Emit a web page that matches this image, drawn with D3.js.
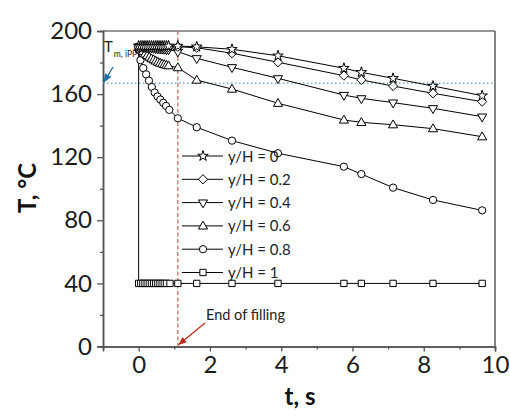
<!DOCTYPE html>
<html><head><meta charset="utf-8">
<script src="https://cdn.jsdelivr.net/npm/d3@7"></script>
<style>body{margin:0;background:#fff}svg{display:block}</style>
</head><body>
<script>
// ---- data ----
const tFine = [0,0.06,0.12,0.18,0.24,0.30,0.36,0.42,0.48,0.54,0.60,0.66,0.72,0.78,0.84,1.1,1.63,2.62,3.91,5.76,6.25,7.14,8.26,9.64];
const tCircle = [0,0.05,0.13,0.21,0.29,0.37,0.45,0.53,0.61,0.69,0.77,0.86,1.1,1.63,2.62,3.91,5.76,6.25,7.14,8.26,9.64];
const tSquare = [0,0,0.06,0.12,0.18,0.24,0.30,0.36,0.42,0.48,0.54,0.60,0.66,0.72,0.78,0.88,1.1,1.63,2.62,3.91,5.76,6.25,7.14,8.26,9.64];
const yH0   = [190.5,190.5,190.5,190.5,190.5,190.5,190.5,190.5,190.5,190.5,190.5,190.5,190.5,190.5,190.5,190.5,190,188.4,184.3,176.4,173.8,170,165.1,159];
const yH02  = [190,190,190,190,190,190,190,190,189.9,189.9,189.9,189.8,189.8,189.8,189.8,190,189.4,185.9,180.2,171.7,169,165.1,160.5,155.2];
const yH04  = [190,189.9,189.8,189.7,189.6,189.5,189.4,189.2,189,188.9,188.8,188.7,188.6,188.4,188.3,186.9,182.7,177,170,159.4,157.3,154.6,151,145.7];
const yH06  = [190,188.5,187,185.5,184.5,183.5,182.5,181.8,181,180.3,179.7,179.2,178.8,178.4,178,176.8,168.9,163.2,154.2,143.6,142.1,140.6,138.1,133];
const yH08  = [188,181.5,176.5,172.5,168.5,164.5,161,158.5,156.5,154.5,152.5,150,144.7,139,130.5,122.5,114,109.3,100.7,92.9,86.3];
const yH1   = [190,40,40,40,40,40,40,40,40,40,40,40,40,40,40,40,40,40,40,40,40,40,40,40,40];
const seriesNames = ["y/H = 0","y/H = 0.2","y/H = 0.4","y/H = 0.6","y/H = 0.8","y/H = 1"];
const xTicks = [0,2,4,6,8,10];
const yTicks = [0,40,80,120,160,200];
const tMelt = 167;      // T_m, iPP
const tFill = 1.1;      // end of filling

const W = 510, H = 416;
const m = {l:103, r:15, t:31, b:70};
const svg = d3.select("body").append("svg").attr("width",W).attr("height",H);
const x = d3.scaleLinear().domain([-1,10]).range([m.l, W-m.r]);
const y = d3.scaleLinear().domain([0,200]).range([H-m.b+0.5, m.t]);
const FONT = "Lato, 'Open Sans', sans-serif";

// frame top/right
svg.append("line").attr("x1",x(-1)).attr("x2",x(10)).attr("y1",y(200)).attr("y2",y(200)).attr("stroke","#333").attr("stroke-width",1.2);
svg.append("line").attr("x1",x(10)).attr("x2",x(10)).attr("y1",y(200)).attr("y2",y(0)).attr("stroke","#333").attr("stroke-width",1.2);

// axes
const gx = svg.append("g").attr("transform",`translate(0,${y(0)})`)
  .call(d3.axisBottom(x).tickValues(xTicks).tickSize(5).tickPadding(4).tickFormat(d3.format("d")));
gx.append("g").call(d3.axisBottom(x).tickValues([-1,1,3,5,7,9]).tickSize(3).tickFormat(""));
const gy = svg.append("g").attr("transform",`translate(${x(-1)},0)`)
  .call(d3.axisLeft(y).tickValues(yTicks).tickSize(6).tickPadding(5));
gy.append("g").call(d3.axisLeft(y).tickValues([20,60,100,140,180]).tickSize(3).tickFormat(""));
svg.selectAll(".domain").attr("stroke","#555").attr("stroke-width",1.5);
svg.selectAll(".tick line").attr("stroke","#555").attr("stroke-width",1.3);
svg.selectAll(".tick text").attr("font-family",FONT).attr("font-size",24).attr("fill","#1a1a1a");

// reference lines
svg.append("line").attr("x1",x(-1)).attr("x2",x(10)).attr("y1",y(tMelt)).attr("y2",y(tMelt))
  .attr("stroke","#5d9fcc").attr("stroke-width",1.3).attr("stroke-dasharray","1.5,2.5");
svg.append("line").attr("x1",x(tFill)).attr("x2",x(tFill)).attr("y1",y(200)).attr("y2",y(0))
  .attr("stroke","#c9605a").attr("stroke-width",1.2).attr("stroke-dasharray","4,2.5");

// symbols
const sym = {
  star: d3.symbol().type(d3.symbolStar).size(34)(),
  diamond: "M0,-4.6L4.6,0L0,4.6L-4.6,0Z",
  tdown: d3.symbol().type(d3.symbolTriangle).size(36)(),
  tup: d3.symbol().type(d3.symbolTriangle).size(36)(),
  circle: d3.symbol().type(d3.symbolCircle).size(42)(),
  square: d3.symbol().type(d3.symbolSquare).size(40)()
};
const series = [
  {name:seriesNames[0], t:tFine, v:yH0, s:"star"},
  {name:seriesNames[1], t:tFine, v:yH02, s:"diamond"},
  {name:seriesNames[2], t:tFine, v:yH04, s:"tdown"},
  {name:seriesNames[3], t:tFine, v:yH06, s:"tup"},
  {name:seriesNames[4], t:tCircle, v:yH08, s:"circle"},
  {name:seriesNames[5], t:tSquare, v:yH1, s:"square"}
];
function marker(g, s, cx, cy){
  const p = g.append("path").attr("d",sym[s]).attr("fill","#fff").attr("stroke","#000").attr("stroke-width",1);
  let tr = `translate(${cx},${cy})`;
  if(s==="tdown") tr += " rotate(180)";
  if(s==="tup") tr += " translate(0,0.5)";
  p.attr("transform",tr);
}
const line = d3.line().x(d=>x(d[0])).y(d=>y(d[1]));
series.slice().reverse().forEach(sr=>{
  const pts = sr.t.map((t,i)=>[t,sr.v[i]]);
  const g = svg.append("g");
  g.append("path").attr("d",line(pts)).attr("fill","none").attr("stroke","#000").attr("stroke-width",1);
  pts.forEach(p=>marker(g, sr.s, x(p[0]), y(p[1])));
});

// legend
const lg = svg.append("g");
series.forEach((sr,i)=>{
  const cy = 156 + i*23.3;
  lg.append("line").attr("x1",182).attr("x2",223).attr("y1",cy).attr("y2",cy).attr("stroke","#000").attr("stroke-width",1);
  marker(lg, sr.s, 203, cy);
  lg.append("text").attr("x",228).attr("y",cy+5.5).attr("font-family",FONT).attr("font-size",15).attr("fill","#222").text(sr.name);
});

// annotations
const defs = svg.append("defs");
function arrowDef(id,color){
  defs.append("marker").attr("id",id).attr("viewBox","0 0 10 10").attr("refX",9).attr("refY",5)
    .attr("markerWidth",7).attr("markerHeight",7).attr("orient","auto")
    .append("path").attr("d","M0,1L10,5L0,9Z").attr("fill",color);
}
arrowDef("ab","#1f6fa3"); arrowDef("ar","#c0281e");
const tm = svg.append("text").attr("x",104).attr("y",52).attr("font-family",FONT).attr("fill","#222");
tm.append("tspan").attr("font-size",15).text("T");
tm.append("tspan").attr("font-size",8.5).attr("dy",5).attr("dx",1).text("m, iPP");
svg.append("line").attr("x1",113).attr("y1",67).attr("x2",x(-1)+1).attr("y2",y(tMelt)-1)
  .attr("stroke","#1f6fa3").attr("stroke-width",1.3).attr("marker-end","url(#ab)");
svg.append("text").attr("x",206).attr("y",320).attr("font-family",FONT).attr("font-size",14.5).attr("fill","#222").text("End of filling");
svg.append("line").attr("x1",205).attr("y1",323).attr("x2",x(tFill)+1).attr("y2",y(0)-2)
  .attr("stroke","#c0281e").attr("stroke-width",1.2).attr("marker-end","url(#ar)");

// axis titles
svg.append("text").attr("transform",`translate(36,188) rotate(-90)`).attr("text-anchor","middle")
  .attr("font-family",FONT).attr("font-weight","bold").attr("font-size",24).attr("fill","#111").text("T, °C");
svg.append("text").attr("x",300).attr("y",405).attr("text-anchor","middle")
  .attr("font-family",FONT).attr("font-weight","bold").attr("font-size",24).attr("fill","#111").text("t, s");
</script>
</body></html>
